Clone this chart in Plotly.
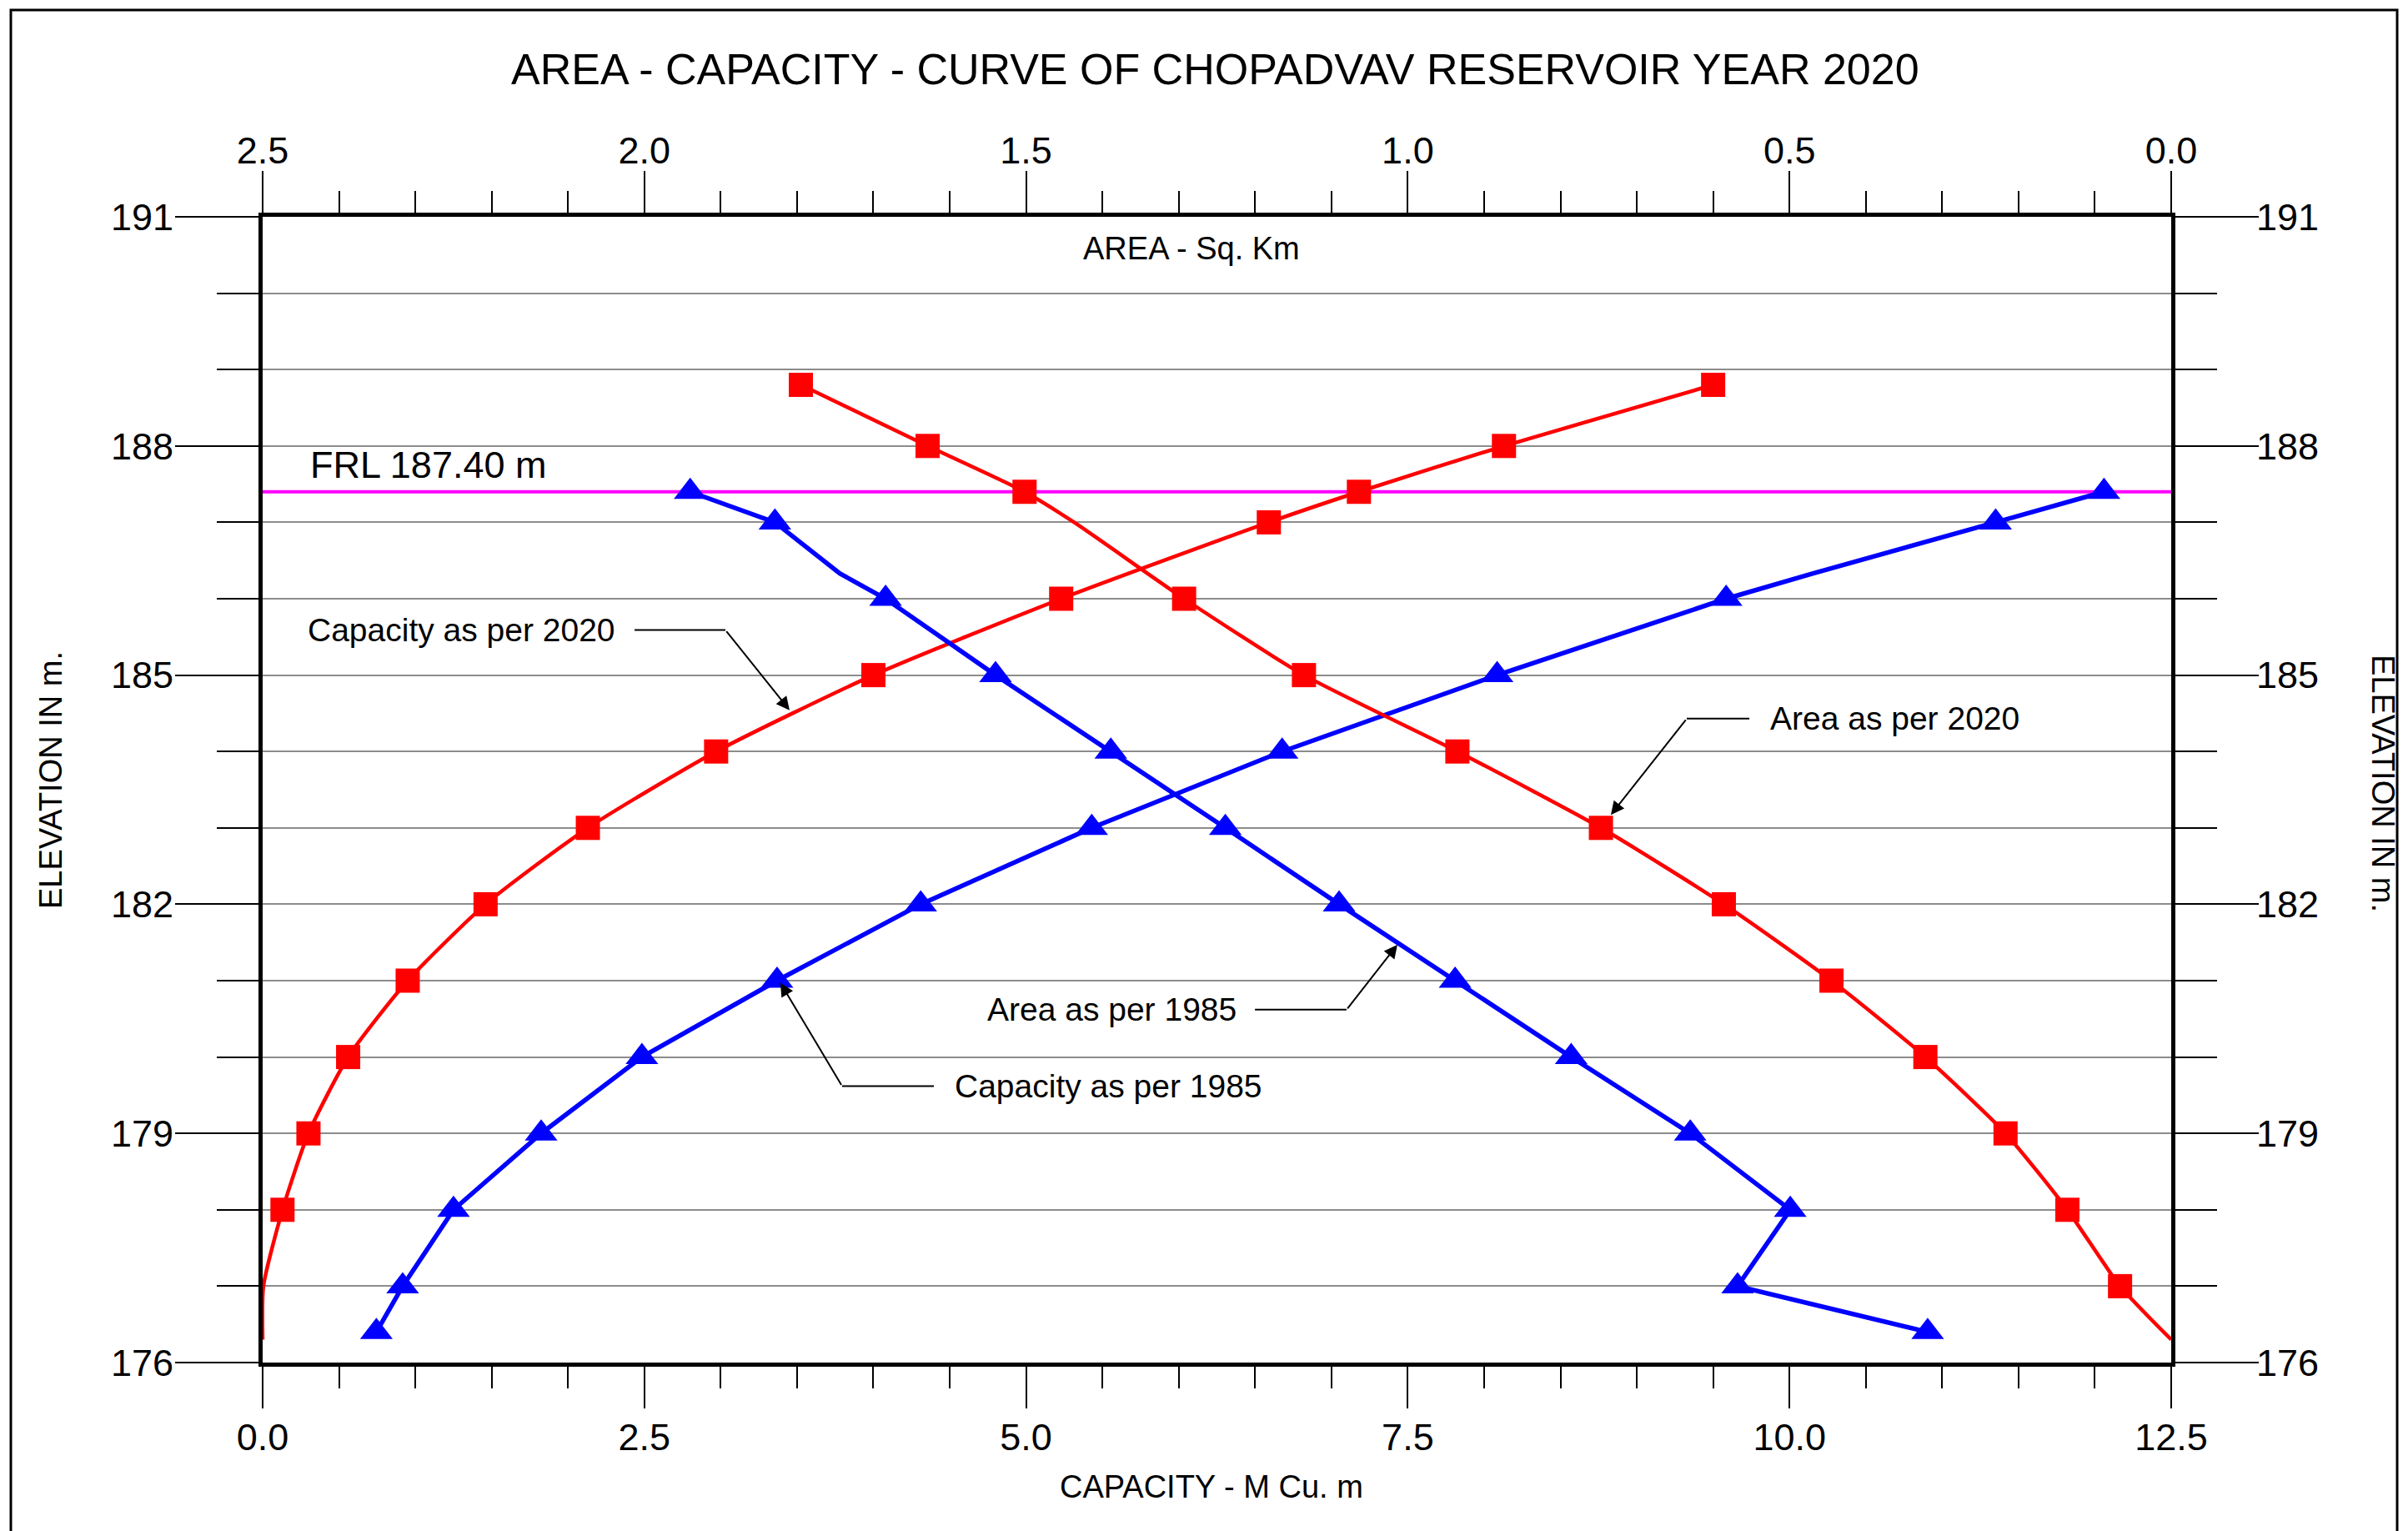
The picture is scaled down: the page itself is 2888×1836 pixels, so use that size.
import plotly.graph_objects as go

# ---- Survey data -----------------------------------------------------------
# 2020 survey: elevation (m), cumulative capacity (M cu. m), water-spread area (sq. km)
elev_2020 = [176.3, 177, 178, 179, 180, 181, 182, 183, 184, 185, 186, 187, 187.4, 188, 188.8]
capacity_2020 = [0.0, 0.005, 0.13, 0.30, 0.56, 0.95, 1.46, 2.13, 2.97, 4.00, 5.23, 6.59, 7.18, 8.13, 9.50]
area_2020 = [0.0, 0.067, 0.136, 0.217, 0.322, 0.445, 0.586, 0.747, 0.935, 1.136, 1.293, 1.437, 1.502, 1.629, 1.795]

# 1985 survey
elev_1985 = [176.4, 177, 178, 179, 180, 181, 182, 183, 184, 185, 186, 186.33, 187, 187.4]
capacity_1985 = [0.745, 0.917, 1.25, 1.824, 2.484, 3.369, 4.31, 5.43, 6.677, 8.085, 9.585, 10.15, 11.35, 12.06]
area_1985 = [0.319, 0.568, 0.499, 0.630, 0.786, 0.938, 1.090, 1.239, 1.389, 1.540, 1.684, 1.744, 1.829, 1.940]

# Levels that are only line vertices (no symbol drawn)
plain_cap_2020 = [176.3, 177]
plain_area_2020 = [176.3, 187]
plain_1985 = [186.33]

FRL = 187.40

# Axis ticks
elev_ticks = [176, 179, 182, 185, 188, 191]
capacity_ticks = [0.0, 2.5, 5.0, 7.5, 10.0, 12.5]
area_ticks = [0.0, 0.5, 1.0, 1.5, 2.0, 2.5]

# ---- Styling ---------------------------------------------------------------
FONT = "Liberation Sans, Arial, Helvetica, sans-serif"
RED = "#FF0000"
BLUE = "#0000FF"
MAGENTA = "#FF00FF"
GRID = "#8C8C8C"
SQ_SIZE = 29
TRI_SIZE = 34

FIG_W, FIG_H = 2888, 1836
M_L, M_R, M_T, M_B = 315, 284, 260, 202
PLOT_W = FIG_W - M_L - M_R
PLOT_H = FIG_H - M_T - M_B


def px_x(x):
    return (x - M_L) / PLOT_W


def px_y(y):
    return (FIG_H - M_B - y) / PLOT_H


def sizes(levels, plain, size):
    return [0 if lv in plain else size for lv in levels]


def marker_style(symbol, color, levels, plain, size):
    return dict(symbol=symbol, color=color, opacity=1,
                size=sizes(levels, plain, size), line=dict(width=0))


fig = go.Figure()

# 1985 curves (blue, triangles, straight segments)
fig.add_trace(go.Scatter(
    x=area_1985, y=elev_1985, xaxis="x2", yaxis="y", mode="lines+markers",
    line=dict(color=BLUE, width=5.5),
    marker=marker_style("triangle-up", BLUE, elev_1985, plain_1985, TRI_SIZE),
    name="Area as per 1985", showlegend=False,
))
fig.add_trace(go.Scatter(
    x=capacity_1985, y=elev_1985, xaxis="x", yaxis="y", mode="lines+markers",
    line=dict(color=BLUE, width=5.5),
    marker=marker_style("triangle-up", BLUE, elev_1985, plain_1985, TRI_SIZE),
    name="Capacity as per 1985", showlegend=False,
))

# 2020 curves (red, squares, smoothed)
fig.add_trace(go.Scatter(
    x=area_2020, y=elev_2020, xaxis="x2", yaxis="y", mode="lines+markers",
    line=dict(color=RED, width=4.5, shape="spline", smoothing=0.6),
    marker=marker_style("square", RED, elev_2020, plain_area_2020, SQ_SIZE),
    name="Area as per 2020", showlegend=False,
))
fig.add_trace(go.Scatter(
    x=capacity_2020, y=elev_2020, xaxis="x", yaxis="y", mode="lines+markers",
    line=dict(color=RED, width=4.5, shape="spline", smoothing=0.6),
    marker=marker_style("square", RED, elev_2020, plain_cap_2020, SQ_SIZE),
    name="Capacity as per 2020", showlegend=False,
))

# Empty trace so the right-hand elevation axis is rendered
fig.add_trace(go.Scatter(x=[None], y=[None], xaxis="x", yaxis="y2",
                         showlegend=False, hoverinfo="skip"))

tick_font = dict(family=FONT, size=45, color="black")
common_line = dict(showline=True, linecolor="black", linewidth=5, zeroline=False)

fig.update_layout(
    width=FIG_W, height=FIG_H, autosize=False,
    margin=dict(l=M_L, r=M_R, t=M_T, b=M_B, pad=0),
    paper_bgcolor="white", plot_bgcolor="white",
    font=dict(family=FONT, color="black"),
    showlegend=False,
    xaxis=dict(
        range=[0, 12.5], tickmode="array", tickvals=capacity_ticks,
        ticktext=[f"{v:.1f}" for v in capacity_ticks],
        ticks="outside", ticklen=50, tickwidth=2, tickcolor="black",
        minor=dict(dtick=0.5, tick0=0, ticks="outside", ticklen=26, tickwidth=2,
                   tickcolor="black", showgrid=False),
        showgrid=False, tickfont=tick_font, anchor="y", side="bottom",
        ticklabelstandoff=-4, **common_line,
    ),
    xaxis2=dict(
        range=[2.5, 0], overlaying="x", anchor="y", side="top",
        tickmode="array", tickvals=area_ticks, ticktext=[f"{v:.1f}" for v in area_ticks],
        ticks="outside", ticklen=50, tickwidth=2, tickcolor="black",
        minor=dict(dtick=0.1, tick0=0, ticks="outside", ticklen=26, tickwidth=2,
                   tickcolor="black", showgrid=False),
        showgrid=False, tickfont=tick_font, ticklabelstandoff=-9, **common_line,
    ),
    yaxis=dict(
        range=[176, 191], tickmode="array", tickvals=elev_ticks,
        ticktext=[str(v) for v in elev_ticks],
        ticks="outside", ticklen=100, tickwidth=2, tickcolor="black",
        minor=dict(dtick=1, tick0=176, ticks="outside", ticklen=50, tickwidth=2,
                   tickcolor="black", showgrid=True, gridcolor=GRID, gridwidth=2),
        showgrid=True, gridcolor=GRID, gridwidth=2,
        tickfont=tick_font, anchor="x", side="left", ticklabelstandoff=-7, **common_line,
    ),
    yaxis2=dict(
        range=[176, 191], overlaying="y", anchor="x", side="right",
        tickmode="array", tickvals=elev_ticks, ticktext=[str(v) for v in elev_ticks],
        ticks="outside", ticklen=100, tickwidth=2, tickcolor="black",
        minor=dict(dtick=1, tick0=176, ticks="outside", ticklen=50, tickwidth=2,
                   tickcolor="black", showgrid=False),
        showgrid=False, tickfont=tick_font, ticklabelstandoff=-12, **common_line,
    ),
)

shapes = []
# Full reservoir level line
shapes.append(dict(type="line", xref="paper", yref="y", x0=0, x1=1, y0=FRL, y1=FRL,
                   line=dict(color=MAGENTA, width=4), layer="between"))
# Drawing border around the sheet
shapes.append(dict(type="rect", xref="paper", yref="paper",
                   x0=px_x(13), x1=px_x(2875), y0=px_y(1850), y1=px_y(12),
                   line=dict(color="black", width=3), fillcolor="rgba(0,0,0,0)"))

# Leader callouts: (label, text x, text y, anchor, elbow start x, elbow x, tip x, tip y)
callouts = [
    ("Capacity as per 2020", 2.32, 185.59, "right", 2.436, 3.031, 3.451, 184.54),
    ("Area as per 2020", 9.86, 184.43, "left", 9.737, 9.327, 8.830, 183.17),
    ("Area as per 1985", 6.39, 180.62, "right", 6.499, 7.099, 7.432, 181.47),
    ("Capacity as per 1985", 4.52, 179.62, "left", 4.396, 3.795, 3.391, 180.97),
]

annotations = []
for label, tx, ty, anchor, x_start, x_elbow, x_tip, y_tip in callouts:
    annotations.append(dict(text=label, x=tx, y=ty, xref="x", yref="y", xanchor=anchor,
                            yanchor="middle", showarrow=False,
                            font=dict(family=FONT, size=39, color="black")))
    shapes.append(dict(type="line", xref="x", yref="y", x0=x_start, x1=x_elbow, y0=ty, y1=ty,
                       line=dict(color="black", width=2)))
    annotations.append(dict(text="", x=x_tip, y=y_tip, xref="x", yref="y",
                            ax=x_elbow, ay=ty, axref="x", ayref="y",
                            showarrow=True, arrowhead=2, arrowsize=1.6, arrowwidth=2,
                            arrowcolor="black", standoff=0))

annotations += [
    dict(text="AREA - CAPACITY - CURVE OF CHOPADVAV RESERVOIR YEAR 2020",
         x=px_x(1457), y=px_y(83), xref="paper", yref="paper",
         xanchor="center", yanchor="middle", showarrow=False,
         font=dict(family=FONT, size=52, color="black")),
    dict(text="AREA - Sq. Km", x=px_x(1429), y=px_y(298), xref="paper", yref="paper",
         xanchor="center", yanchor="middle", showarrow=False,
         font=dict(family=FONT, size=38, color="black")),
    dict(text="CAPACITY - M Cu. m", x=px_x(1453), y=px_y(1783), xref="paper", yref="paper",
         xanchor="center", yanchor="middle", showarrow=False,
         font=dict(family=FONT, size=38, color="black")),
    dict(text="ELEVATION IN m.", x=px_x(61), y=px_y(936), xref="paper", yref="paper",
         xanchor="center", yanchor="middle", showarrow=False, textangle=-90,
         font=dict(family=FONT, size=38, color="black")),
    dict(text="ELEVATION IN m.", x=px_x(2858), y=px_y(939), xref="paper", yref="paper",
         xanchor="center", yanchor="middle", showarrow=False, textangle=90,
         font=dict(family=FONT, size=38, color="black")),
    dict(text=f"FRL {FRL:.2f} m", x=0.30, y=FRL + 0.35, xref="x", yref="y",
         xanchor="left", yanchor="middle", showarrow=False,
         font=dict(family=FONT, size=45, color="black")),
]

fig.update_layout(shapes=shapes, annotations=annotations)

fig.write_html("out.html")
